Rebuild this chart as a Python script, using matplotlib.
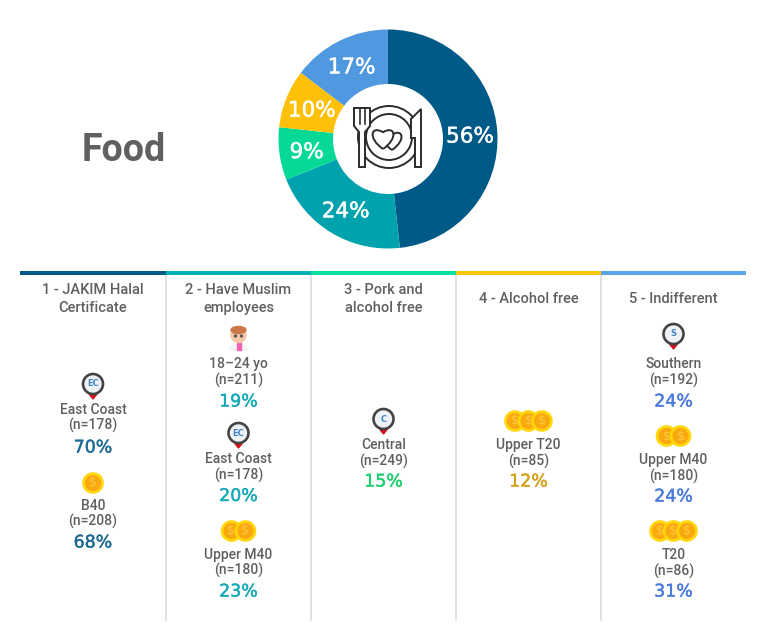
import matplotlib
matplotlib.use('Agg')
import matplotlib.pyplot as plt
import matplotlib.patheffects as pe
from matplotlib.patches import Circle, Polygon, Rectangle, PathPatch, Ellipse
from matplotlib.path import Path

# data
share_values = [56, 24, 9, 10, 17]
share_colors = ['#005a87', '#00a3ad', '#06d995', '#ffc107', '#5099e0']
columns = ['1 - JAKIM Halal\nCertificate', '2 - Have Muslim\nemployees',
           '3 - Pork and\nalcohol free', '4 - Alcohol free', '5 - Indifferent']
col1_groups = ['East Coast', 'B40']
col1_n = [178, 208]
col1_pct = [70, 68]
col2_groups = ['18–24 yo', 'East Coast', 'Upper M40']
col2_n = [211, 178, 180]
col2_pct = [19, 20, 23]
col3_groups = ['Central']
col3_n = [249]
col3_pct = [15]
col4_groups = ['Upper T20']
col4_n = [85]
col4_pct = [12]
col5_groups = ['Southern', 'Upper M40', 'T20']
col5_n = [192, 180, 86]
col5_pct = [24, 24, 31]

# layout, in pixels of the image
W, H = 764, 629
TEXT = '#606060'
LABEL_FONT = ['Roboto', 'DejaVu Sans']
PCT_FONT = ['DejaVu Sans']
bar_edges = [20, 166, 311, 456, 601, 746]
bar_colors = ['#005a87', '#09b1b5', '#0be0a0', '#ffc400', '#5aa5e8']
pct_colors = ['#1d6a94', '#17a9b8', '#1ccf6e', '#d4a017', '#4a7bdc']
title_y = [299, 299, 299, 299, 299]
icon_y = [[384, 483], [337, 433, 531], [419], [421], [334, 436, 531]]
label_y = [[409.5, 505.5], [364, 459, 555], [445], [445], [364, 460, 555]]
n_y = [[425.5, 521.5], [380.5, 475.5, 570.5], [461], [461], [380, 476, 571]]
pct_y = [[447.5, 542.5], [401.5, 496, 591.5], [481.5], [481.5], [401.5, 496.5, 591.5]]
icons = [[('pin', 'EC'), ('coin', 1)],
         [('person', None), ('pin', 'EC'), ('coin', 2)],
         [('pin', 'C')],
         [('coin', 3)],
         [('pin', 'S'), ('coin', 2), ('coin', 3)]]


def stroke(text, width):
    text.set_path_effects([pe.Stroke(linewidth=width, foreground=text.get_color()), pe.Normal()])


def draw_pin(ax, x, y, letter):
    ax.add_patch(Polygon([(x - 4, y + 10), (x + 4, y + 10), (x, y + 15)], color='#d0101a', zorder=3))
    ax.add_patch(Circle((x, y), 10, fc='#eef2f6', ec='#444444', lw=1.9, zorder=4))
    ax.text(x, y, letter, ha='center', va='center', fontsize=6, fontweight='bold',
            color='#3d85c6', zorder=5)


def draw_coins(ax, x, y, n):
    step = 13.5 if n == 3 else 14
    for i in range(n):
        cx = x + (i - (n - 1) / 2) * step
        ax.add_patch(Circle((cx, y), 10.8, fc='#ffd60a', ec='none', zorder=3 + i * 3))
        ax.add_patch(Circle((cx, y), 8, fc='#f9a80d', ec='none', zorder=4 + i * 3))
        ax.text(cx, y, '$', ha='center', va='center', fontsize=9, color='#ffcb45', zorder=5 + i * 3)


def draw_person(ax, x, y):
    ax.add_patch(Polygon([(x - 9, y + 13), (x - 6, y + 7), (x + 6, y + 7), (x + 9, y + 13)],
                         color='#f1f3f8', zorder=3))
    ax.add_patch(Rectangle((x - 2, y + 6), 4, 7, color='#f062b0', zorder=4))
    ax.add_patch(Circle((x, y - 2), 7.5, color='#f6c6a8', zorder=4))
    ax.add_patch(Ellipse((x, y - 7), 15, 7, color='#c9794a', zorder=5))
    ax.add_patch(Circle((x - 3, y - 1), 0.9, color='#555555', zorder=6))
    ax.add_patch(Circle((x + 3, y - 1), 0.9, color='#555555', zorder=6))


def heart_path(x, y, s):
    verts = [(x, y + s), (x - 1.3 * s, y + 0.1 * s), (x - 1.0 * s, y - 1.0 * s), (x, y - 0.4 * s),
             (x + 1.0 * s, y - 1.0 * s), (x + 1.3 * s, y + 0.1 * s), (x, y + s)]
    codes = [Path.MOVETO, Path.CURVE4, Path.CURVE4, Path.CURVE4, Path.CURVE4, Path.CURVE4, Path.CURVE4]
    return Path(verts, codes)


def draw_plate(ax, x, y):
    dark = '#2b2b2b'
    ax.add_patch(Circle((x + 1, y - 2), 31, fc='white', ec=dark, lw=1.4, zorder=5))
    ax.add_patch(Circle((x + 1, y - 2), 23, fc='white', ec=dark, lw=1.4, zorder=5))
    ax.add_patch(PathPatch(heart_path(x + 4, y, 11), fc='white', ec=dark, lw=1.4, zorder=6))
    ax.add_patch(PathPatch(heart_path(x - 5, y - 2, 12), fc='white', ec=dark, lw=1.4, zorder=7))
    # fork
    ax.add_patch(Polygon([(x - 34, y - 31), (x - 34, y - 13), (x - 29, y - 7), (x - 29, y + 28),
                          (x - 23, y + 28), (x - 23, y - 7), (x - 18, y - 13), (x - 18, y - 31)],
                         fc='white', ec=dark, lw=1.4, zorder=8))
    ax.plot([x - 28.5, x - 28.5], [y - 31, y - 15], color=dark, lw=1.2, zorder=9)
    ax.plot([x - 23.5, x - 23.5], [y - 31, y - 15], color=dark, lw=1.2, zorder=9)
    # knife
    ax.add_patch(Polygon([(x + 33, y - 30), (x + 23, y - 20), (x + 23, y - 1), (x + 27, y - 1),
                          (x + 27, y + 28), (x + 33, y + 28)],
                         fc='white', ec=dark, lw=1.4, zorder=8))


fig = plt.figure(figsize=(W / 100, H / 100), dpi=100)
ax = fig.add_axes([0, 0, 1, 1])
ax.set_xlim(0, W)
ax.set_ylim(H, 0)
ax.axis('off')

# donut
pie_cx, pie_cy, box = 388, 139, 115
pie_ax = fig.add_axes([(pie_cx - box) / W, 1 - (pie_cy + box) / H, 2 * box / W, 2 * box / H])
total = sum(share_values)
wedges, _, autotexts = pie_ax.pie(share_values, colors=share_colors, startangle=90, counterclock=False,
                                  radius=109.5, wedgeprops={'width': 54.5},
                                  autopct=lambda p: f'{p * total / 100:.0f}%', pctdistance=0.75,
                                  textprops={'color': 'white', 'fontsize': 15.5, 'family': PCT_FONT})
for t in autotexts:
    t.set_y(t.get_position()[1] - 2)
    stroke(t, 0.3)
pie_ax.set_xlim(-box, box)
pie_ax.set_ylim(-box, box)
pie_ax.set_zorder(0)
ax.set_zorder(1)
ax.patch.set_alpha(0)
draw_plate(ax, pie_cx, pie_cy)

ax.text(124, 150.5, 'Food', ha='center', va='center', fontsize=27, fontweight='bold',
        color=TEXT, family=LABEL_FONT)

# header bars and dividers
for i in range(5):
    ax.add_patch(Rectangle((bar_edges[i], 270.5), bar_edges[i + 1] - bar_edges[i], 4,
                           color=bar_colors[i], lw=0, zorder=3))
for x in bar_edges[1:5]:
    ax.plot([x, x], [274, 620], color='#dcdcdc', lw=1.2, zorder=1)

groups = [col1_groups, col2_groups, col3_groups, col4_groups, col5_groups]
ns = [col1_n, col2_n, col3_n, col4_n, col5_n]
pcts = [col1_pct, col2_pct, col3_pct, col4_pct, col5_pct]
for c in range(5):
    cx = (bar_edges[c] + bar_edges[c + 1]) / 2
    ax.text(cx, title_y[c], columns[c], ha='center', va='center', fontsize=10.5, fontweight='medium',
            color=TEXT, family=LABEL_FONT, linespacing=1.3)
    for i, name in enumerate(groups[c]):
        kind, arg = icons[c][i]
        if kind == 'pin':
            draw_pin(ax, cx, icon_y[c][i], arg)
        elif kind == 'coin':
            draw_coins(ax, cx, icon_y[c][i], arg)
        else:
            draw_person(ax, cx, icon_y[c][i])
        ax.text(cx, label_y[c][i], name, ha='center', va='center', fontsize=10, fontweight='medium',
                color=TEXT, family=LABEL_FONT)
        ax.text(cx, n_y[c][i], f'(n={ns[c][i]})', ha='center', va='center', fontsize=10, fontweight='medium',
                color=TEXT, family=LABEL_FONT)
        t = ax.text(cx, pct_y[c][i], f'{pcts[c][i]}%', ha='center', va='center', fontsize=12.5,
                    color=pct_colors[c], family=PCT_FONT)
        stroke(t, 0.3)

fig.savefig('out.png', dpi=100)
plt.close(fig)
